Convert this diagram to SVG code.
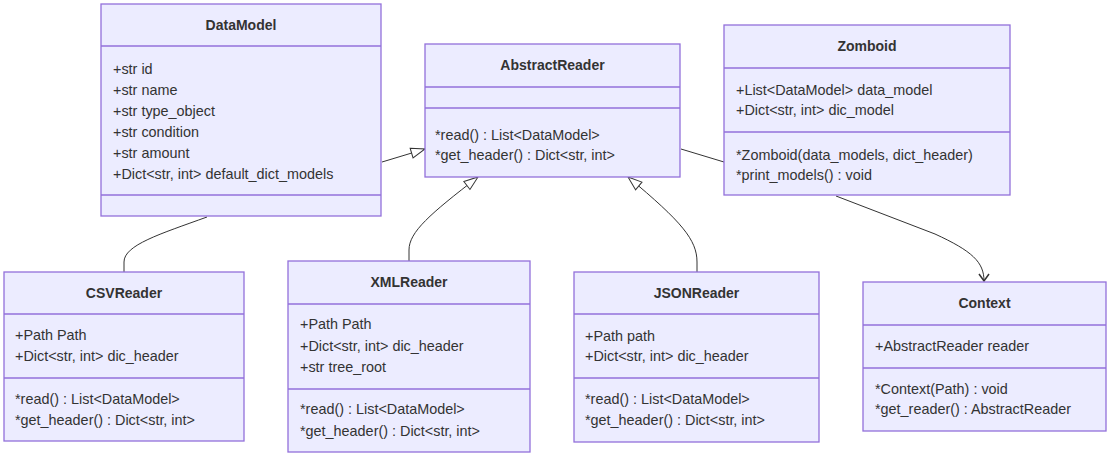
<svg xmlns="http://www.w3.org/2000/svg" width="1112" height="454" viewBox="0 0 1112 454">
<style>
.box{fill:#ECECFF;stroke:#9370DB;stroke-width:1.3}
.div{stroke:#9370DB;stroke-width:1.3}
.t{font-family:"Liberation Sans",Arial,sans-serif;font-size:14.4px;fill:#333}
.title{font-weight:bold;text-anchor:middle;font-size:14px}
.edge{fill:none;stroke:#333;stroke-width:1}
</style>
<defs>
<marker id="ext" viewBox="0 0 16 12" refX="15" refY="6" markerWidth="16" markerHeight="12" markerUnits="userSpaceOnUse" orient="auto">
<path d="M1,1 L15,6 L1,11 Z" fill="#fff" stroke="#333" stroke-width="1"/>
</marker>
<marker id="open" viewBox="0 0 10 12" refX="8" refY="6" markerWidth="10" markerHeight="12" markerUnits="userSpaceOnUse" orient="auto">
<path d="M1,1 L8,6 L1,11" fill="none" stroke="#333" stroke-width="1.5"/>
</marker>
</defs>
<rect width="1112" height="454" fill="#fff"/>
<g id="connectors">
<path class="edge" d="M382,162 L425,149" marker-end="url(#ext)"/>
<path class="edge" d="M681,149 L724,162"/>
<path class="edge" d="M207,217 C160,234 124,245 124,262 L124,272"/>
<path class="edge" d="M409,261 L409,250 C409,232 430,214 478,177" marker-end="url(#ext)"/>
<path class="edge" d="M697,272 L697,262 C697,240 682,222 628,177" marker-end="url(#ext)"/>
<path class="edge" d="M836,196 L935,234 C972,251 984,262 984,281" marker-end="url(#open)"/>
</g>
<g id="DataModel">
<rect class="box" x="101" y="4" width="280" height="212"/>
<line class="div" x1="101" y1="46" x2="381" y2="46"/>
<line class="div" x1="101" y1="195" x2="381" y2="195"/>
<text class="t title" x="241" y="30">DataModel</text>
<text class="t" x="113" y="74">+str id</text>
<text class="t" x="113" y="95">+str name</text>
<text class="t" x="113" y="116">+str type_object</text>
<text class="t" x="113" y="137">+str condition</text>
<text class="t" x="113" y="158">+str amount</text>
<text class="t" x="113" y="179">+Dict&lt;str, int&gt; default_dict_models</text>
</g>
<g id="AbstractReader">
<rect class="box" x="425" y="44" width="255" height="133"/>
<line class="div" x1="425" y1="87" x2="680" y2="87"/>
<line class="div" x1="425" y1="108" x2="680" y2="108"/>
<text class="t title" x="552.5" y="70">AbstractReader</text>
<text class="t" x="435" y="140">*read() : List&lt;DataModel&gt;</text>
<text class="t" x="435" y="160">*get_header() : Dict&lt;str, int&gt;</text>
</g>
<g id="Zomboid">
<rect class="box" x="724" y="25" width="286" height="170"/>
<line class="div" x1="724" y1="68" x2="1010" y2="68"/>
<line class="div" x1="724" y1="132" x2="1010" y2="132"/>
<text class="t title" x="867" y="51">Zomboid</text>
<text class="t" x="736" y="95">+List&lt;DataModel&gt; data_model</text>
<text class="t" x="736" y="115">+Dict&lt;str, int&gt; dic_model</text>
<text class="t" x="736" y="160">*Zomboid(data_models, dict_header)</text>
<text class="t" x="736" y="180">*print_models() : void</text>
</g>
<g id="CSVReader">
<rect class="box" x="4" y="272" width="240" height="169"/>
<line class="div" x1="4" y1="314" x2="244" y2="314"/>
<line class="div" x1="4" y1="378" x2="244" y2="378"/>
<text class="t title" x="124" y="298">CSVReader</text>
<text class="t" x="15" y="340">+Path Path</text>
<text class="t" x="15" y="361">+Dict&lt;str, int&gt; dic_header</text>
<text class="t" x="15" y="404">*read() : List&lt;DataModel&gt;</text>
<text class="t" x="15" y="425">*get_header() : Dict&lt;str, int&gt;</text>
</g>
<g id="XMLReader">
<rect class="box" x="288" y="261" width="242" height="191"/>
<line class="div" x1="288" y1="304" x2="530" y2="304"/>
<line class="div" x1="288" y1="389" x2="530" y2="389"/>
<text class="t title" x="409" y="287">XMLReader</text>
<text class="t" x="300" y="329">+Path Path</text>
<text class="t" x="300" y="351">+Dict&lt;str, int&gt; dic_header</text>
<text class="t" x="300" y="372">+str tree_root</text>
<text class="t" x="300" y="414">*read() : List&lt;DataModel&gt;</text>
<text class="t" x="300" y="436">*get_header() : Dict&lt;str, int&gt;</text>
</g>
<g id="JSONReader">
<rect class="box" x="574" y="272" width="245" height="170"/>
<line class="div" x1="574" y1="314" x2="819" y2="314"/>
<line class="div" x1="574" y1="378" x2="819" y2="378"/>
<text class="t title" x="696.5" y="298">JSONReader</text>
<text class="t" x="585" y="341">+Path path</text>
<text class="t" x="585" y="361">+Dict&lt;str, int&gt; dic_header</text>
<text class="t" x="585" y="404">*read() : List&lt;DataModel&gt;</text>
<text class="t" x="585" y="425">*get_header() : Dict&lt;str, int&gt;</text>
</g>
<g id="Context">
<rect class="box" x="863" y="282" width="243" height="149"/>
<line class="div" x1="863" y1="325" x2="1106" y2="325"/>
<line class="div" x1="863" y1="368" x2="1106" y2="368"/>
<text class="t title" x="984.5" y="308">Context</text>
<text class="t" x="875" y="351">+AbstractReader reader</text>
<text class="t" x="875" y="394">*Context(Path) : void</text>
<text class="t" x="875" y="414">*get_reader() : AbstractReader</text>
</g>
</svg>
